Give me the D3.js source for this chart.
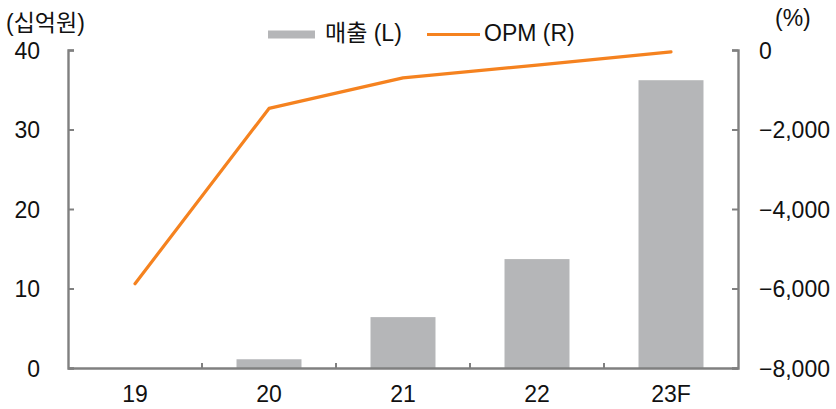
<!DOCTYPE html>
<html>
<head>
<meta charset="utf-8">
<script src="https://cdn.jsdelivr.net/npm/d3@7"></script>
<style>
  html, body { margin: 0; padding: 0; background: #fff; }
  svg { display: block; }
  text { font-family: "Liberation Sans", "Noto Sans CJK KR", sans-serif; fill: #111; }
</style>
</head>
<body>
<svg id="chart" width="836" height="409"></svg>
<script>
// Yearly revenue (KRW bn, left axis) and operating margin (%, right axis)
const categories = ["19", "20", "21", "22", "23F"];
const revenue = [0, 1.1, 6.4, 13.7, 36.2];
const opm = [-5880, -1470, -700, -380, -45];
const leftTicks = [0, 10, 20, 30, 40];
const rightTicks = [-8000, -6000, -4000, -2000, 0];

const svg = d3.select("#chart");
const m = { left: 68, right: 738, top: 50, bottom: 368 };
const axisColor = "#808080";
const barColor = "#b5b6b8";
const lineColor = "#f5821f";
const fontFamily = '"Liberation Sans", "Noto Sans CJK KR", sans-serif';
const fs = 23;

const x = d3.scaleBand().domain(categories).range([m.left, m.right]).paddingInner(0).paddingOuter(0);
const yL = d3.scaleLinear().domain([0, 40]).range([m.bottom, m.top]);
const yR = d3.scaleLinear().domain([-8000, 0]).range([m.bottom, m.top]);

// Bars
const barW = x.bandwidth() * 0.485;
svg.append("g").selectAll("rect")
  .data(categories)
  .join("rect")
  .attr("x", (d) => x(d) + (x.bandwidth() - barW) / 2)
  .attr("width", barW)
  .attr("y", (d, i) => yL(revenue[i]))
  .attr("height", (d, i) => yL(0) - yL(revenue[i]))
  .attr("fill", barColor);

// OPM line
const line = d3.line()
  .x((d, i) => x(categories[i]) + x.bandwidth() / 2)
  .y((d) => yR(d));
svg.append("path")
  .datum(opm)
  .attr("d", line)
  .attr("fill", "none")
  .attr("stroke", lineColor)
  .attr("stroke-width", 3.2)
  .attr("stroke-linejoin", "round")
  .attr("stroke-linecap", "round");

// Axes
const fmt = (v) => v === 0 ? "0" : d3.format(",")(v).replace("-", "\u2212");

const gL = svg.append("g").attr("transform", `translate(${m.left},0)`)
  .call(d3.axisLeft(yL).tickValues(leftTicks).tickSizeInner(-6).tickSizeOuter(-6));
const gR = svg.append("g").attr("transform", `translate(${m.right},0)`)
  .call(d3.axisRight(yR).tickValues(rightTicks).tickSizeInner(-6).tickSizeOuter(-6).tickFormat(fmt));
const xBounds = d3.range(1, categories.length).map((i) => m.left + i * x.bandwidth());
const gX = svg.append("g").attr("transform", `translate(0,${m.bottom})`)
  .call(d3.axisBottom(x).tickSize(0));
gX.selectAll(".xb").data(xBounds).join("line")
  .attr("class", "xb")
  .attr("x1", (d) => d).attr("x2", (d) => d)
  .attr("y1", 0).attr("y2", -5)
  .attr("stroke", axisColor).attr("stroke-width", 2);

[gL, gR, gX].forEach((g) => {
  g.select(".domain").attr("stroke", axisColor).attr("stroke-width", 2.4);
  g.selectAll(".tick line").attr("stroke", axisColor).attr("stroke-width", 2);
  g.selectAll(".tick text")
    .attr("font-size", fs)
    .attr("fill", "#111")
    .style("font-family", fontFamily);
});
gL.selectAll(".tick text").attr("x", -28).attr("dy", "0.35em").attr("text-anchor", "end");
gR.selectAll(".tick text").attr("x", 21).attr("dy", "0.35em").attr("text-anchor", "start");
gX.selectAll(".tick text").attr("y", 34).attr("dy", 0);

// Unit labels
svg.append("text").attr("x", 6).attr("y", 31).attr("font-size", fs).text("(십억원)");
svg.append("text").attr("x", 775).attr("y", 26).attr("font-size", fs).text("(%)");

// Legend
const lg = svg.append("g");
lg.append("rect").attr("x", 268).attr("y", 30.5).attr("width", 47).attr("height", 8).attr("fill", barColor);
lg.append("text").attr("x", 325).attr("y", 41).attr("font-size", fs).text("매출 (L)");
lg.append("line").attr("x1", 427).attr("x2", 480).attr("y1", 34.5).attr("y2", 34.5)
  .attr("stroke", lineColor).attr("stroke-width", 3.2);
lg.append("text").attr("x", 484).attr("y", 41).attr("font-size", fs).text("OPM (R)");
</script>
</body>
</html>
